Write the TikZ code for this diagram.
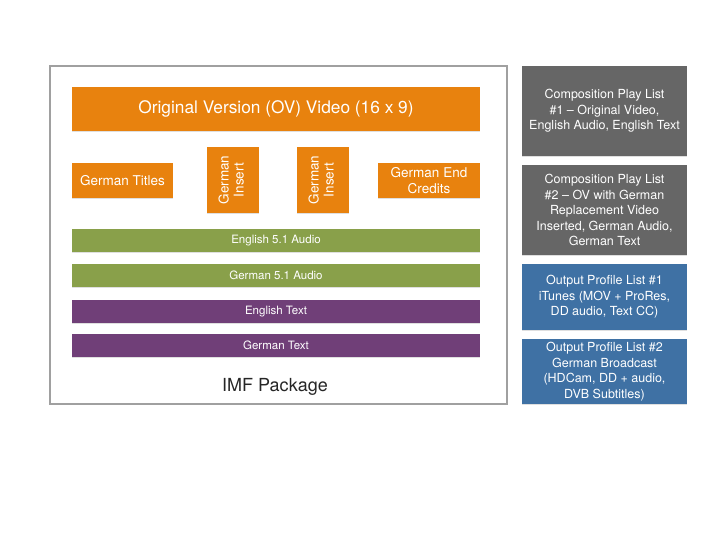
\documentclass[tikz,border=0pt]{standalone}
\usepackage{fontspec}
\setmainfont{TeX Gyre Heros}
\usetikzlibrary{shadows}
\definecolor{ovorange}{HTML}{E8820E}
\definecolor{audgreen}{HTML}{89A04A}
\definecolor{txtpurple}{HTML}{703F78}
\definecolor{cplgray}{HTML}{666666}
\definecolor{opblue}{HTML}{3F71A4}
\definecolor{frame}{HTML}{A0A0A0}
\tikzset{
  blk/.style={inner sep=0pt, align=center, text=white,
    drop shadow={shadow xshift=0pt, shadow yshift=-1.2pt, opacity=0.25}},
  orangebox/.style={blk, fill=ovorange},
  greenbar/.style={blk, fill=audgreen, minimum width=408pt, minimum height=23pt, font=\fontsize{11.5}{13}\selectfont},
  purplebar/.style={blk, fill=txtpurple, minimum width=408pt, minimum height=23pt, font=\fontsize{11.5}{13}\selectfont},
  sidebox/.style={blk, minimum width=165pt, font=\fontsize{12.5}{15.5}\selectfont},
}
\begin{document}
\begin{tikzpicture}[x=1pt,y=-1pt]
\useasboundingbox (0,0) rectangle (720,540);
\draw[frame, line width=1.4pt] (50,66) rectangle (507,404);
\node[orangebox, minimum width=408pt, minimum height=44pt, font=\fontsize{17.3}{20}\selectfont] (ov) at (276,109) {Original Version (OV) Video (16 x 9)};
\node[orangebox, minimum width=101pt, minimum height=35pt, font=\fontsize{13.5}{16}\selectfont] (titles) at (122.5,180.5) {German Titles};
\node[orangebox, minimum width=52pt, minimum height=66pt] (ins1) at (233,180) {\rotatebox{90}{\fontsize{13.5}{15}\selectfont\begin{tabular}{@{}c@{}}German\\Insert\end{tabular}}};
\node[orangebox, minimum width=52pt, minimum height=66pt] (ins2) at (323,180) {\rotatebox{90}{\fontsize{13.5}{15}\selectfont\begin{tabular}{@{}c@{}}German\\Insert\end{tabular}}};
\node[orangebox, minimum width=102pt, minimum height=35pt, font=\fontsize{13.5}{16}\selectfont] (credits) at (429,180.5) {German End\\Credits};
\node[greenbar] (enaud) at (276,240.5) {English 5.1 Audio};
\node[greenbar] (deaud) at (276,275.5) {German 5.1 Audio};
\node[purplebar] (entxt) at (276,311.5) {English Text};
\node[purplebar] (detxt) at (276,345.5) {German Text};
\node[font=\fontsize{18}{21}\selectfont, text=black!85] (imf) at (275,387) {IMF Package};
\node[sidebox, fill=cplgray, minimum height=90pt] (cpl1) at (604.5,111) {Composition Play List\\\#1 -- Original Video,\\English Audio, English Text};
\node[sidebox, fill=cplgray, minimum height=90pt] (cpl2) at (604.5,210) {Composition Play List\\\#2 -- OV with German\\Replacement Video\\Inserted, German Audio,\\German Text};
\node[sidebox, fill=opblue, minimum height=66pt] (opl1) at (604.5,297) {Output Profile List \#1\\iTunes (MOV + ProRes,\\DD audio, Text CC)};
\node[sidebox, fill=opblue, minimum height=65pt] (opl2) at (604.5,371.5) {Output Profile List \#2\\German Broadcast\\(HDCam, DD + audio,\\DVB Subtitles)};
\end{tikzpicture}
\end{document}
